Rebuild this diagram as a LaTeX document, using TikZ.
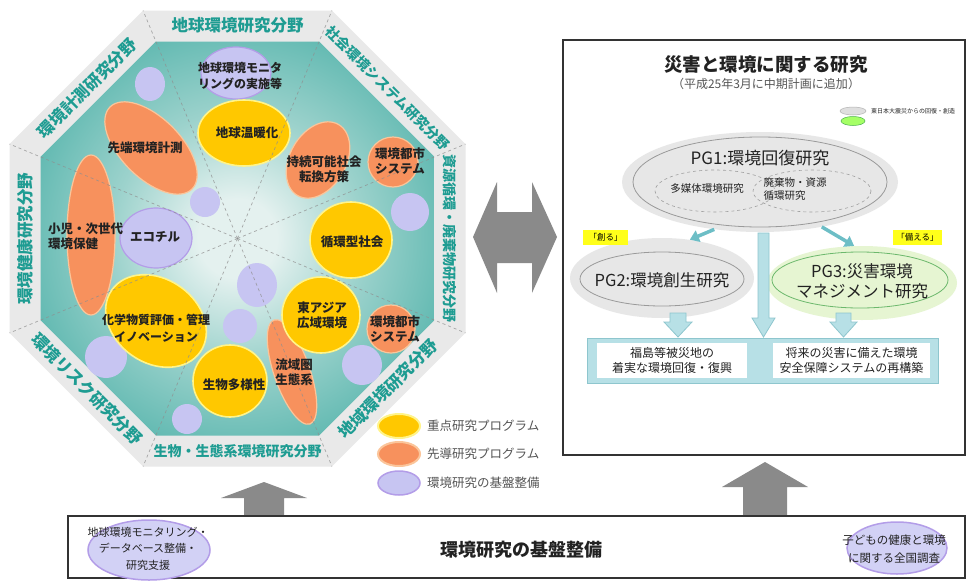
\documentclass[tikz,border=0pt]{standalone}
\usepackage{fontspec}
\setmainfont{Noto Sans CJK JP}
\usetikzlibrary{shapes.geometric,arrows.meta}
\definecolor{bandc}{HTML}{E9E9E9}
\definecolor{tealc}{HTML}{5AB6AE}
\definecolor{tealmid}{HTML}{9CD2CC}
\definecolor{tealctr}{HTML}{E4F1EF}
\definecolor{labc}{HTML}{1E9C92}
\definecolor{yelc}{HTML}{FFC800}
\definecolor{yelline}{HTML}{FFF48A}
\definecolor{orgc}{HTML}{F7915D}
\definecolor{orgline}{HTML}{FBC59A}
\definecolor{lavc}{HTML}{C7C5F2}
\definecolor{lavline}{HTML}{B39DE8}
\definecolor{dashc}{HTML}{8F8F8F}
\definecolor{arrgray}{HTML}{8A8A8A}
\definecolor{pgfill}{HTML}{E7E7E7}
\definecolor{pgline}{HTML}{9A9A9A}
\definecolor{greenfill}{HTML}{E6F5D2}
\definecolor{lbfill}{HTML}{B7E0E6}
\definecolor{lbline}{HTML}{8EC6CE}
\definecolor{tarr}{HTML}{6DBEC6}
\definecolor{tagy}{HTML}{FFFF1A}
\definecolor{boxline}{HTML}{333333}
\definecolor{txt}{HTML}{222222}
\definecolor{legtxt}{HTML}{555555}
\pgfdeclareradialshading{octshade}{\pgfpoint{0bp}{0bp}}{color(0bp)=(tealctr); color(5bp)=(tealctr); color(16bp)=(tealmid); color(29bp)=(tealc); color(50bp)=(tealc)}
\newcommand\fsz[2]{\fontsize{#1pt}{#2pt}\selectfont}
\tikzset{
 yel/.style={fill=yelc, draw=yelline, line width=1.6pt},
 org/.style={fill=orgc, draw=orgline, line width=1.2pt},
 lavo/.style={fill=lavc, draw=lavline, line width=1.2pt},
 lav/.style={fill=lavc},
 clab/.style={font=\fsz{12.5}{15}\bfseries, text=txt, align=center, inner sep=0pt},
 seclab/.style={font=\fsz{16.5}{18}\bfseries, text=labc, inner sep=0pt},
 seclabs/.style={font=\fsz{14}{16}\bfseries, text=labc, inner sep=0pt},
 legl/.style={font=\fsz{12.5}{14}, text=legtxt, anchor=west, inner sep=0pt},
 fatarrow/.style={fill=lbfill, draw=lbline, line width=.8pt},
 tarrow/.style={draw=tarr, line width=3.5pt, -{Triangle[length=9pt,width=12pt]}},
 pgell/.style={ellipse, inner sep=0pt},
 tag/.style={fill=tagy, font=\fsz{8.5}{10}, minimum height=15pt, inner sep=0pt},
 resbox/.style={fill=white, font=\fsz{12}{15.5}, text=txt, align=center, inner sep=0pt},
 btxt/.style={font=\fsz{11}{16.5}, text=txt, align=center, inner sep=0pt},
}
\begin{document}
\begin{tikzpicture}[x=1pt,y=-1pt]
\useasboundingbox (0,0) rectangle (966,581);
\fill[white] (0,0) rectangle (966,581);
\coordinate (C) at (237.5,238.5);
% octagon
\fill[bandc] (465.5,144.05) -- (331.95,10.5) -- (143.05,10.5) -- (9.5,144.05) -- (9.5,332.95) -- (143.05,466.5) -- (331.95,466.5) -- (465.5,332.95) -- cycle;
\shade[shading=octshade] (434.5,156.9) -- (319.1,41.5) -- (155.9,41.5) -- (40.5,156.9) -- (40.5,320.1) -- (155.9,435.5) -- (319.1,435.5) -- (434.5,320.1) -- cycle;
% sector labels
\node[seclab] (s1) at (237.5,25.5) {地球環境研究分野};
\node[seclab, rotate=45] (s2) at (87.2,88.2) {環境計測研究分野};
\node[seclab, rotate=90] (s3) at (25,238.5) {環境健康研究分野};
\node[seclab, rotate=-45] (s4) at (87.2,388.8) {環境リスク研究分野};
\node[seclabs] (s5) at (237.5,451) {生物・生態系環境研究分野};
\node[seclab, rotate=45] (s6) at (387.8,388.8) {地域環境研究分野};
\node[seclabs, rotate=-90] (s7) at (450,238.5) {資源循環・廃棄物研究分野};
\node[seclabs, rotate=-45] (s8) at (387.8,88.2) {社会環境システム研究分野};
% lavender circles
\path[lav] (150,84) ellipse [x radius=15, y radius=17];
\path[lav] (205,202) circle [radius=15];
\path[lav] (410,212) circle [radius=19];
\path[lav] (257,285) ellipse [x radius=20, y radius=22];
\path[lav] (240,326) circle [radius=17];
\path[lav] (106,357) circle [radius=21];
\path[lav] (187,419) circle [radius=15];
\path[lav] (362,365) circle [radius=20];
\path[lavo] (236,73) ellipse [x radius=35, y radius=26];
\path[lavo] (156,238) ellipse [x radius=36, y radius=30];
% orange
\path[org, rotate around={-45:(151,148)}] (151,148) ellipse [x radius=58, y radius=30];
\path[org] (91,235) ellipse [x radius=24, y radius=80];
\path[org, rotate around={60:(318,160)}] (318,160) ellipse [x radius=41, y radius=28];
\path[org] (393,162) circle [radius=25];
\path[org] (391,329) circle [radius=24];
\path[org, rotate around={-71:(292,372)}] (292,372) ellipse [x radius=55, y radius=18];
% yellow
\path[yel] (244,133) ellipse [x radius=46, y radius=33];
\path[yel] (351,240) ellipse [x radius=41, y radius=38];
\path[yel] (321,315) ellipse [x radius=39, y radius=38];
\path[yel, rotate around={-35:(156,321)}] (156,321) ellipse [x radius=54, y radius=42];
\path[yel] (230,381) ellipse [x radius=37, y radius=36];
% dashed sector lines
\foreach \x/\y in {465.5/144.05, 331.95/10.5, 143.05/10.5, 9.5/144.05, 9.5/332.95, 143.05/466.5, 331.95/466.5, 465.5/332.95}
  \draw[dashc, dashed, line width=.7pt, opacity=.75] (C) -- (\x,\y);
% circle labels
\node[clab, font=\fsz{12}{16}\bfseries] (c1) at (240,76) {地球環境モニタ\\リングの実施等};
\node[clab] (c2) at (247,133) {地球温暖化};
\node[clab] (c3) at (145,148) {先端環境計測};
\node[clab] (c4) at (324,169) {持続可能社会\\転換方策};
\node[clab] (c5) at (400,161) {環境都市\\システム};
\node[clab, align=left, anchor=west] (c6) at (48,236) {小児・次世代\\環境保健};
\node[clab] (c7) at (155,237) {エコチル};
\node[clab] (c8) at (352,242) {循環型社会};
\node[clab, font=\fsz{12}{17}\bfseries] (c9) at (156,328) {化学物質評価・管理\\イノベーション};
\node[clab] (c10) at (322,315) {東アジア\\広域環境};
\node[clab] (c11) at (395,329) {環境都市\\システム};
\node[clab] (c12) at (234,385) {生物多様性};
\node[clab] (c13) at (294,372) {流域圏\\生態系};
% legend
\path[yel, line width=2pt] (399,426) ellipse [x radius=21, y radius=12];
\path[org, line width=2pt] (399,454) ellipse [x radius=21, y radius=12];
\path[lavo, line width=1.5pt] (399,483) ellipse [x radius=21, y radius=12];
\node[legl] (l1) at (427,426) {重点研究プログラム};
\node[legl] (l2) at (427,454) {先導研究プログラム};
\node[legl] (l3) at (427,483) {環境研究の基盤整備};
% double arrow
\fill[arrgray] (473,237) -- (497,182) -- (497,212) -- (532,212) -- (532,182) -- (557,237) -- (532,293) -- (532,263) -- (497,263) -- (497,293) -- cycle;
% right box
\draw[boxline, line width=1.8pt] (563,40) rectangle (965,455);
\node[font=\fsz{18.5}{20}\bfseries, text=txt] (title) at (766,65) {災害と環境に関する研究};
\node[font=\fsz{12}{14}, text=legtxt] (sub) at (766,84) {（平成25年3月に中期計画に追加）};
\path[fill=gray!25, draw=gray!60, line width=.5pt] (853,111) ellipse [x radius=13, y radius=4];
\path[fill=green!45!lime!60!white, draw=green!40!gray, line width=.5pt] (853,121) ellipse [x radius=12, y radius=4.5];
\node[font=\fsz{6}{7}, text=txt, anchor=west, inner sep=0pt] (lg0) at (871,111) {東日本大震災からの回復・創造};
% PG1
\node[pgell, fill=pgfill, minimum width=276pt, minimum height=100pt] (pg1) at (760,182) {};
\path[draw=pgline, line width=.8pt] (760,182) ellipse [x radius=127, y radius=45];
\path[draw=gray!75, dashed, line width=.6pt] (715,191) ellipse [x radius=60, y radius=21];
\path[draw=gray!75, dashed, line width=.6pt] (812,191) ellipse [x radius=59, y radius=21];
\node[font=\fsz{17}{19}, text=txt] (pg1t) at (760,158) {PG1:環境回復研究};
\node[font=\fsz{10.5}{13}, text=txt] (m1) at (707,189) {多媒体環境研究};
\node[font=\fsz{10.5}{12.5}, text=txt, align=left] (m2) at (795,189) {廃棄物・資源\\循環研究};
% PG2 and PG3
\node[pgell, fill=pgfill, minimum width=184pt, minimum height=80pt] (pg2) at (662,278) {};
\path[draw=pgline, line width=.8pt] (662,279) ellipse [x radius=82, y radius=27];
\node[font=\fsz{16.5}{18}, text=txt] (pg2t) at (662,280) {PG2:環境創生研究};
\node[pgell, fill=greenfill, minimum width=190pt, minimum height=74pt] (pg3) at (862,283) {};
\path[draw=pgline!70!green, line width=.8pt] (860,280) ellipse [x radius=88, y radius=28];
\node[font=\fsz{16.5}{20}, text=txt, align=center] (pg3t) at (862,281) {PG3:災害環境\\マネジメント研究};
\draw[tarrow] (pg1.226.8) -- (pg2.54.9);
\draw[tarrow] (pg1.324.7) -- (pg3.102);
\node[tag, minimum width=45pt] (tag1) at (605.5,237.5) {「創る」};
\node[tag, minimum width=49pt] (tag2) at (917.5,237.5) {「備える」};
% fat arrows
\path[fatarrow] (758,233) -- (769,233) -- (769,318) -- (775,318) -- (763.5,337) -- (752,318) -- (758,318) -- cycle;
\path[fatarrow] (670,313) -- (686,313) -- (686,322) -- (692,322) -- (678,337) -- (664,322) -- (670,322) -- cycle;
\path[fatarrow] (836,313) -- (851,313) -- (851,322) -- (857,322) -- (843.5,337) -- (830,322) -- (836,322) -- cycle;
% result box
\node[draw=lbline, fill=lbfill, line width=1pt, minimum width=351pt, minimum height=45pt, inner sep=0pt] (res) at (762.5,360.5) {};
\node[resbox, minimum width=150pt, minimum height=35pt] (r1) at (672,360.5) {福島等被災地の\\着実な環境回復・復興};
\node[resbox, minimum width=157pt, minimum height=35pt] (r2) at (851.5,360.5) {将来の災害に備えた環境\\安全保障システムの再構築};
% bottom
\fill[arrgray] (244,516) -- (244,498) -- (221,498) -- (264,482) -- (307,498) -- (284,498) -- (284,516) -- cycle;
\fill[arrgray] (743,516) -- (743,487) -- (722,487) -- (765,462) -- (808,487) -- (787,487) -- (787,516) -- cycle;
\draw[boxline, line width=1.5pt] (68,516) rectangle (965,578);
\node[font=\fsz{18}{20}\bfseries, text=txt] (bt) at (521,550) {環境研究の基盤整備};
\path[fill=lavc!80!white, draw=lavline, line width=1.5pt] (149,550) ellipse [x radius=61, y radius=30];
\node[btxt] (bl) at (148,548.5) {地球環境モニタリング・\\データベース整備・\\研究支援};
\path[fill=lavc!80!white, draw=lavline, line width=1.5pt] (897,548) ellipse [x radius=50, y radius=26];
\node[btxt, font=\fsz{11.5}{18}] (br) at (894,549) {子どもの健康と環境\\に関する全国調査};
\end{tikzpicture}
\end{document}
